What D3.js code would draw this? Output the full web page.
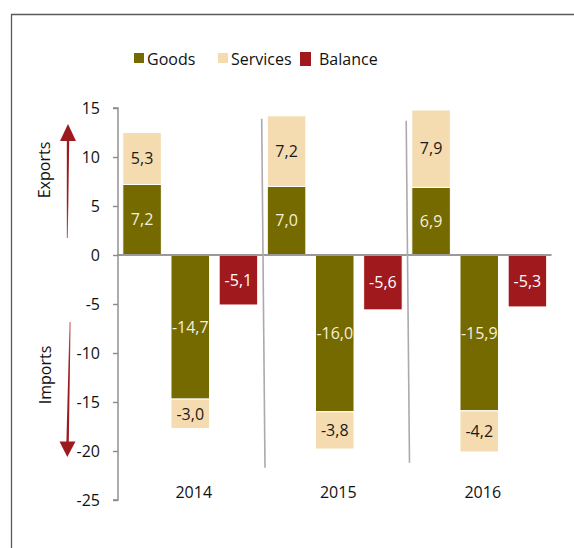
<!DOCTYPE html>
<html>
<head>
<meta charset="utf-8">
<script src="https://cdn.jsdelivr.net/npm/d3@7"></script>
<style>
  html, body { margin: 0; padding: 0; background: #fff; }
  svg { display: block; font-family: "Open Sans", "Noto Sans", sans-serif; }
</style>
</head>
<body>
<svg id="chart" width="574" height="548"></svg>
<script>
// Trade figures by year (exports positive, imports negative)
const years = ["2014", "2015", "2016"];
const goodsExports = [7.2, 7.0, 6.9];
const servicesExports = [5.3, 7.2, 7.9];
const goodsImports = [-14.7, -16.0, -15.9];
const servicesImports = [-3.0, -3.8, -4.2];
const balance = [-5.1, -5.6, -5.3];
const yTicks = [15, 10, 5, 0, -5, -10, -15, -20, -25];
const legendItems = ["Goods", "Services", "Balance"];

const colors = { Goods: "#746a00", Services: "#f4dcb0", Balance: "#a0191d" };
const labelColors = { Goods: "#f4efdc", Services: "#1a1a1a", Balance: "#ffffff" };
const arrowRed = "#9c1a1e";

const svg = d3.select("#chart");
// Decimal comma and plain hyphen for negatives
const fmt = v => d3.format(".1f")(v).replace(".", ",").replace("\u2212", "-");

// Outer frame
svg.append("path")
  .attr("d", "M11.5,560 V14.5 H590")
  .attr("fill", "none").attr("stroke", "#5a5a5a").attr("stroke-width", 1.3);

const y = d3.scaleLinear().domain([-25, 15]).range([500, 108]);
const x0 = d3.scaleBand().domain(years).range([118, 551.5]);
const x1 = d3.scaleBand().domain(["exp", "imp", "bal"])
  .range([0, x0.bandwidth()]).paddingInner(0.2).paddingOuter(0.1);

// Bar segments built from the series
const segs = [];
years.forEach((yr, i) => {
  segs.push({ yr, pos: "exp", s: "Goods", a: 0, b: goodsExports[i], v: goodsExports[i] });
  segs.push({ yr, pos: "exp", s: "Services", a: goodsExports[i], b: goodsExports[i] + servicesExports[i], v: servicesExports[i] });
  segs.push({ yr, pos: "imp", s: "Goods", a: goodsImports[i], b: 0, v: goodsImports[i] });
  segs.push({ yr, pos: "imp", s: "Services", a: goodsImports[i] + servicesImports[i], b: goodsImports[i], v: servicesImports[i] });
  segs.push({ yr, pos: "bal", s: "Balance", a: balance[i], b: 0, v: balance[i] });
});

const bars = svg.append("g");
bars.selectAll("rect").data(segs).join("rect")
  .attr("x", d => x0(d.yr) + x1(d.pos))
  .attr("width", x1.bandwidth())
  .attr("y", d => y(Math.max(d.a, d.b)))
  .attr("height", d => Math.abs(y(d.a) - y(d.b)))
  .attr("fill", d => colors[d.s])
  .attr("stroke", "#fff").attr("stroke-width", 1);

bars.selectAll("text").data(segs).join("text")
  .attr("x", d => x0(d.yr) + x1(d.pos) + x1.bandwidth() / 2)
  .attr("y", d => y((d.a + d.b) / 2))
  .attr("dy", "0.36em")
  .attr("text-anchor", "middle")
  .attr("font-size", 16)
  .attr("fill", d => labelColors[d.s])
  .text(d => fmt(d.v));

// Zero line
svg.append("line")
  .attr("x1", x0.range()[0]).attr("x2", x0.range()[1])
  .attr("y1", y(0)).attr("y2", y(0))
  .attr("stroke", "#9a9a9a").attr("stroke-width", 2);

// Separators between years
const sepTop = [13.9, 13.7], sepBot = [-21.7, -21.2];
years.slice(1).forEach((yr, i) => {
  const bx = x0(yr);
  svg.append("line")
    .attr("x1", bx - 0.8).attr("y1", y(sepTop[i]))
    .attr("x2", bx + 2.5).attr("y2", y(sepBot[i]))
    .attr("stroke", "#aaaaaa").attr("stroke-width", 1.6);
});

// Y axis
const axis = svg.append("g").attr("transform", "translate(118,0)")
  .call(d3.axisLeft(y).tickValues(yTicks).tickSize(5).tickPadding(13).tickFormat(d => String(d)));
axis.select(".domain").attr("stroke", "#8a8a8a").attr("stroke-width", 1.4)
  .attr("d", `M-5,${y(15)}H0V${y(-25)}H-5`);
axis.selectAll(".tick line").attr("stroke", "#8a8a8a").attr("stroke-width", 1.4);
axis.selectAll(".tick text").attr("font-size", 16).attr("fill", "#111")
  .attr("font-family", "'Open Sans', sans-serif");

// Year labels
svg.append("g").selectAll("text").data(years).join("text")
  .attr("x", d => x0(d) + x0.bandwidth() / 2 + 3.5)
  .attr("y", 498)
  .attr("text-anchor", "middle")
  .attr("font-size", 16).attr("fill", "#111")
  .text(d => d);

// Legend
const legendPos = [
  { sx: 134, sy: 53, w: 10, h: 10, tx: 147 },
  { sx: 218, sy: 53, w: 10, h: 10, tx: 231 },
  { sx: 300, sy: 52, w: 11, h: 14, tx: 319 }
];
const lg = svg.append("g");
legendItems.forEach((name, i) => {
  const p = legendPos[i];
  lg.append("rect").attr("x", p.sx).attr("y", p.sy).attr("width", p.w).attr("height", p.h)
    .attr("fill", colors[name]);
  lg.append("text").attr("x", p.tx).attr("y", 65)
    .attr("font-size", 16).attr("fill", "#111").text(name);
});

// Direction arrows: tapered shafts that darken toward the head
const defs = svg.append("defs");
function grad(id, y1, y2) {
  const g = defs.append("linearGradient").attr("id", id)
    .attr("gradientUnits", "userSpaceOnUse")
    .attr("x1", 0).attr("x2", 0).attr("y1", y1).attr("y2", y2);
  g.append("stop").attr("offset", 0).attr("stop-color", "#c4585c");
  g.append("stop").attr("offset", 0.35).attr("stop-color", arrowRed);
  g.append("stop").attr("offset", 1).attr("stop-color", arrowRed);
}
grad("gUp", 238, 140);
grad("gDown", 322, 442);

svg.append("path").attr("d", "M66.8,238 L67.8,238 L69.2,140 L66.8,140 Z").attr("fill", "url(#gUp)");
svg.append("path").attr("d", "M68,124 L76,141 L60,141 Z").attr("fill", arrowRed);

svg.append("path").attr("d", "M69.6,322 L70.6,322 L68.8,442 L66.4,442 Z").attr("fill", "url(#gDown)");
svg.append("path").attr("d", "M67.3,457 L75.5,441.5 L59.5,441.5 Z").attr("fill", arrowRed);

// Direction captions
svg.append("text").attr("transform", "translate(50,170) rotate(-90)")
  .attr("text-anchor", "middle").attr("font-size", 16).attr("fill", "#111").text("Exports");
svg.append("text").attr("transform", "translate(51,375) rotate(-90)")
  .attr("text-anchor", "middle").attr("font-size", 16).attr("fill", "#111").text("Imports");
</script>
</body>
</html>
